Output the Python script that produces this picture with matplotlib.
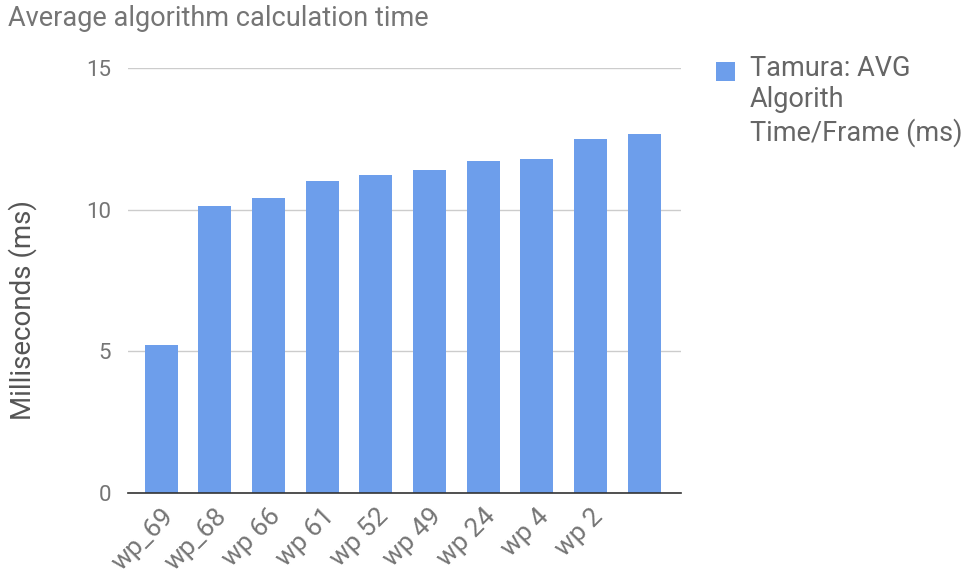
import matplotlib
matplotlib.use('Agg')
import matplotlib.pyplot as plt
from matplotlib.patches import Rectangle

plt.rcParams['font.family'] = ['Roboto', 'DejaVu Sans']

labels = ['wp_69', 'wp_68', 'wp 66', 'wp 61', 'wp 52', 'wp 49', 'wp 24', 'wp 4', 'wp 2', '']
avg_time = [5.23, 10.12, 10.43, 11.03, 11.21, 11.40, 11.71, 11.78, 12.50, 12.69]
series_name = 'Tamura: AVG\nAlgorith\nTime/Frame (ms)'

bar_color = '#6d9eeb'
text_color = '#757575'

fig = plt.figure(figsize=(9.69, 5.82), dpi=100)
ax = fig.add_axes([0.132, 0.153, 0.571, 0.730])

x = range(len(avg_time))
ax.bar(x, avg_time, width=0.62, color=bar_color, zorder=2)

ax.set_ylim(0, 15)
ax.set_xlim(-0.62, 9.69)
ax.set_yticks([0, 5, 10, 15])
ax.grid(axis='y', color='#cccccc', linewidth=1, zorder=0)
for side in ['top', 'right', 'left']:
    ax.spines[side].set_visible(False)
ax.spines['bottom'].set_color('#333333')
ax.spines['bottom'].set_linewidth(1.2)
ax.spines['bottom'].set_zorder(3)

ax.tick_params(axis='y', length=0, pad=12, labelsize=16, labelcolor=text_color)
ax.tick_params(axis='x', length=0, pad=8, labelsize=19, labelcolor=text_color)
ax.set_xticks(list(x))
ax.set_xticklabels(labels, rotation=45, ha='right', rotation_mode='anchor')

ax.set_ylabel('Milliseconds (ms)', fontsize=20, color='#555555')
ax.yaxis.set_label_coords(-0.165, 0.43)

fig.text(0.008, 0.968, 'Average algorithm calculation time', fontsize=19.5,
         color=text_color, va='center', ha='left')

# legend swatch and wrapped series name
fig.patches.append(Rectangle((0.739, 0.861), 0.020, 0.033, transform=fig.transFigure,
                             facecolor=bar_color, edgecolor='none'))
fig.text(0.774, 0.905, series_name, fontsize=19.5, color='#666666', va='top', ha='left',
         linespacing=1.2)

fig.savefig('out.png', dpi=100)
